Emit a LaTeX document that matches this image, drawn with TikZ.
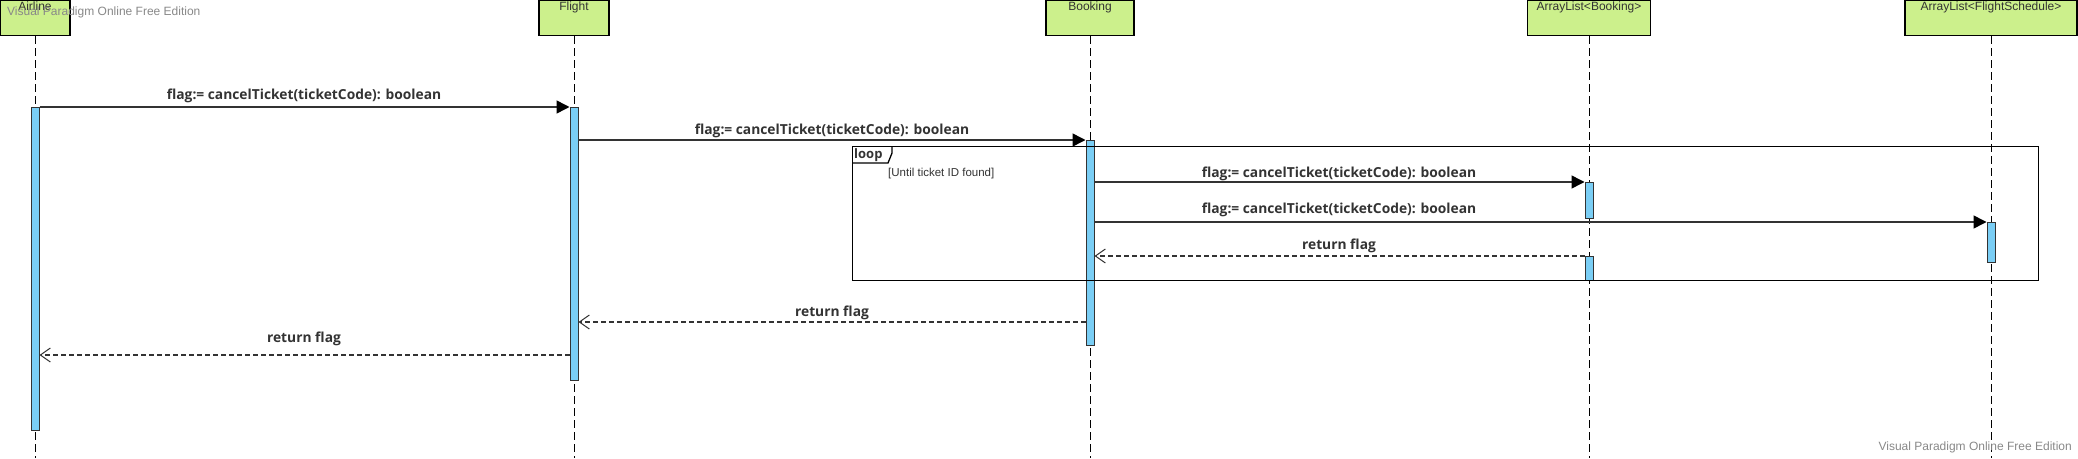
\documentclass[tikz,border=0pt]{standalone}
\usepackage{fontspec}
\setmainfont{Liberation Sans}
\newfontfamily\msgfont{Open Sans}
\usetikzlibrary{arrows.meta,calc}
\definecolor{boxgreen}{RGB}{204,240,140}
\definecolor{barblue}{RGB}{122,206,245}
\definecolor{wmgray}{RGB}{136,136,136}
\definecolor{ink}{RGB}{51,51,51}
\begin{document}
\begin{tikzpicture}[x=1pt,y=-1pt,
 lifebox/.style={draw=black, fill=boxgreen, line width=1.3pt, minimum height=35pt, inner sep=0pt, anchor=north},
 boxtitle/.style={font=\fontsize{12}{14}\selectfont, text=ink, anchor=north, inner sep=0pt, yshift=-1.5pt},
 lifeline/.style={draw=black, line width=1pt, dash pattern=on 8pt off 4pt},
 actbar/.style={draw=ink, fill=barblue, line width=1pt, minimum width=8pt, inner sep=0pt, anchor=north},
 msg/.style={draw=ink, line width=1.5pt, -{Triangle[length=13pt,width=13pt,color=black]}},
 ret/.style={draw=ink, line width=1.2pt, dash pattern=on 5pt off 3pt, -{Straight Barb[length=10pt,width=14pt,line width=1pt]}},
 msglabel/.style={font=\msgfont\bfseries\fontsize{13.8}{16}\selectfont, text=ink, anchor=base, inner sep=0pt},
 watermark/.style={font=\fontsize{12}{14}\selectfont, text=wmgray, inner sep=0pt},
 loopframe/.style={draw=black, line width=1.3pt, inner sep=0pt, anchor=north west},
]
\useasboundingbox (0,0) rectangle (2078,458);

% lifeline heads
\node[lifebox, minimum width=70pt] (airline) at (35,0) {};
\node[lifebox, minimum width=70pt] (flight) at (574,0) {};
\node[lifebox, minimum width=88pt] (booking) at (1090,0) {};
\node[lifebox, minimum width=123pt] (alb) at (1589,0) {};
\node[lifebox, minimum width=172pt] (alfs) at (1991,0) {};
\node[boxtitle] (airlineT) at (airline.north) {Airline};
\node[boxtitle] (flightT) at (flight.north) {Flight};
\node[boxtitle] (bookingT) at (booking.north) {Booking};
\node[boxtitle] (albT) at (alb.north) {ArrayList<Booking>};
\node[boxtitle] (alfsT) at (alfs.north) {ArrayList<FlightSchedule>};

% lifelines
\coordinate (airlineEnd) at (35,458);
\coordinate (flightEnd) at (574,458);
\coordinate (bookingEnd) at (1090,458);
\coordinate (albEnd) at (1589,458);
\coordinate (alfsEnd) at (1991,458);
\draw[lifeline] (airline.south) -- (airlineEnd);
\draw[lifeline] (flight.south) -- (flightEnd);
\draw[lifeline] (booking.south) -- (bookingEnd);
\draw[lifeline] (alb.south) -- (albEnd);
\draw[lifeline] (alfs.south) -- (alfsEnd);

% activation bars
\node[actbar, minimum height=323pt] (airlineBar) at (35,107) {};
\node[actbar, minimum height=273pt] (flightBar) at (574,107) {};
\node[actbar, minimum height=205pt] (bookingBar) at (1090,140) {};
\node[actbar, minimum height=36pt] (albBarA) at (1589,182) {};
\node[actbar, minimum height=40pt] (alfsBar) at (1991,222) {};
\node[actbar, minimum height=24pt] (albBarB) at (1589,256) {};

% loop frame
\node[loopframe, minimum width=1186pt, minimum height=134pt] (loop) at (852,146) {};
\draw[line width=1.3pt, draw=black] ($(loop.north west)+(0,17)$) -- ($(loop.north west)+(36,17)$) -- ($(loop.north west)+(40,7)$) -- ($(loop.north west)+(40,0)$);
\node[font=\msgfont\bfseries\fontsize{13}{15}\selectfont, text=ink, anchor=west, inner sep=0pt] (loopT) at (854,155) {loop};
\node[font=\fontsize{11.5}{13}\selectfont, text=ink, anchor=west, inner sep=0pt] (guard) at (888,174) {[Until ticket ID found]};

% messages
\draw[msg] (airlineBar.north east) -- (flightBar.north west);
\draw[msg] (flightBar.east |- bookingBar.north) -- (bookingBar.north west);
\draw[msg] (bookingBar.east |- albBarA.north) -- (albBarA.north west);
\draw[msg] (bookingBar.east |- alfsBar.north) -- (alfsBar.north west);
\draw[ret] (albBarB.north west) -- (bookingBar.east |- albBarB.north);
\draw[ret] (bookingBar.west |- 0,322) -- (flightBar.east |- 0,322);
\draw[ret] (flightBar.west |- 0,355) -- (airlineBar.east |- 0,355);

\node[msglabel] (l1) at (304,99) {flag:= cancelTicket(ticketCode): boolean};
\node[msglabel] (l2) at (832,134) {flag:= cancelTicket(ticketCode): boolean};
\node[msglabel] (l3) at (1339,177) {flag:= cancelTicket(ticketCode): boolean};
\node[msglabel] (l4) at (1339,213) {flag:= cancelTicket(ticketCode): boolean};
\node[msglabel] (l5) at (1339,249) {return flag};
\node[msglabel] (l6) at (832,316) {return flag};
\node[msglabel] (l7) at (304,342) {return flag};

% watermarks
\node[watermark, anchor=west] (wm1) at (7,12) {Visual Paradigm Online Free Edition};
\node[watermark, anchor=east] (wm2) at (2072,447) {Visual Paradigm Online Free Edition};
\end{tikzpicture}
\end{document}
